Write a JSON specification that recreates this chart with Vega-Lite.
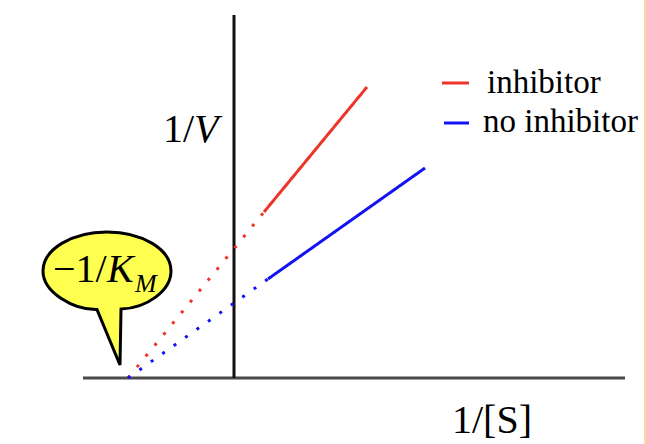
{
  "$schema": "https://vega.github.io/schema/vega-lite/v6.json",
  "width": 646,
  "height": 444,
  "padding": 0,
  "autosize": {"type": "none"},
  "background": "white",
  "config": {
    "view": {"stroke": null}
  },
  "datasets": {
    "lines": [
      {"series": "inhibitor", "part": "dotted", "x": -1.06, "y": 0},
      {"series": "inhibitor", "part": "dotted", "x": 0.30, "y": 1.66},
      {"series": "inhibitor", "part": "solid", "x": 0.30, "y": 1.66},
      {"series": "inhibitor", "part": "solid", "x": 1.33, "y": 2.91},
      {"series": "no inhibitor", "part": "dotted", "x": -1.06, "y": 0},
      {"series": "no inhibitor", "part": "dotted", "x": 0.34, "y": 0.99},
      {"series": "no inhibitor", "part": "solid", "x": 0.34, "y": 0.99},
      {"series": "no inhibitor", "part": "solid", "x": 1.91, "y": 2.10}
    ],
    "legend": [
      {"series": "inhibitor", "x": 2.08, "x2": 2.35, "y": 2.95, "lx": 2.53, "ly": 2.85},
      {"series": "no inhibitor", "x": 2.10, "x2": 2.35, "y": 2.55, "lx": 2.49, "ly": 2.46}
    ],
    "xaxis": [{"x": -1.51, "x2": 3.91, "y": 0}],
    "yaxis": [{"x": 0, "y": 0, "y2": 3.63}],
    "border": [{"x": 4.11, "y": -0.66, "y2": 3.78}],
    "callout": [{"x": -1.27, "y": 1.07}],
    "upright": [
      {"t": "1/", "x": -0.71, "y": 2.36},
      {"t": "1/[S]", "x": 2.18, "y": -0.55},
      {"t": "−1/", "x": -1.81, "y": 0.96}
    ],
    "italic": [
      {"t": "V", "x": -0.40, "y": 2.36},
      {"t": "K", "x": -1.27, "y": 0.96}
    ],
    "sub": [{"t": "M", "x": -0.99, "y": 0.86}]
  },
  "encoding": {
    "x": {"field": "x", "type": "quantitative", "scale": {"domain": [-2.34, 4.12], "nice": false, "zero": false}, "axis": null},
    "y": {"field": "y", "type": "quantitative", "scale": {"domain": [-0.66, 3.78], "nice": false, "zero": false}, "axis": null}
  },
  "layer": [
    {
      "data": {"name": "border"},
      "mark": {"type": "rule", "color": "#f5dba3", "strokeWidth": 2},
      "encoding": {"y2": {"field": "y2"}}
    },
    {
      "data": {"name": "xaxis"},
      "mark": {"type": "rule", "color": "#4a4a4a", "strokeWidth": 3},
      "encoding": {"x2": {"field": "x2"}}
    },
    {
      "data": {"name": "yaxis"},
      "mark": {"type": "rule", "color": "#111111", "strokeWidth": 3},
      "encoding": {"y2": {"field": "y2"}}
    },
    {
      "data": {"name": "lines"},
      "mark": {"type": "line", "strokeWidth": 3},
      "encoding": {
        "color": {
          "field": "series",
          "type": "nominal",
          "scale": {"domain": ["inhibitor", "no inhibitor"], "range": ["#ee3328", "#1212f2"]},
          "legend": null
        },
        "strokeDash": {"field": "part", "type": "nominal", "scale": {"domain": ["dotted", "solid"], "range": [[3, 11], [1, 0]]}, "legend": null},
        "order": {"field": "x", "type": "quantitative"}
      }
    },
    {
      "data": {"name": "legend"},
      "mark": {"type": "rule", "strokeWidth": 3},
      "encoding": {
        "x2": {"field": "x2"},
        "color": {"field": "series", "type": "nominal", "legend": null}
      }
    },
    {
      "data": {"name": "legend"},
      "mark": {"type": "text", "font": "Liberation Serif", "fontSize": 33, "align": "left", "baseline": "alphabetic", "color": "black"},
      "encoding": {
        "x": {"field": "lx", "type": "quantitative"},
        "y": {"field": "ly", "type": "quantitative"},
        "text": {"field": "series"}
      }
    },
    {
      "data": {"name": "callout"},
      "mark": {
        "type": "point",
        "shape": "M0.219,0.595 C0.62,0.58 1,0.31 1,0 C1,-0.3369 0.5523,-0.61 0,-0.61 C-0.5523,-0.61 -1,-0.3369 -1,0 C-1,0.3369 -0.52,0.61 -0.156,0.6025 L0.203,1.469 Z",
        "size": 16384,
        "filled": true,
        "fill": "#ffff50",
        "stroke": "black",
        "strokeWidth": 3,
        "opacity": 1
      },
      "encoding": {}
    },
    {
      "data": {"name": "upright"},
      "mark": {"type": "text", "font": "Liberation Serif", "fontSize": 40, "align": "left", "baseline": "alphabetic", "color": "black"},
      "encoding": {"text": {"field": "t"}}
    },
    {
      "data": {"name": "italic"},
      "mark": {"type": "text", "font": "Liberation Serif", "fontSize": 40, "fontStyle": "italic", "align": "left", "baseline": "alphabetic", "color": "black"},
      "encoding": {"text": {"field": "t"}}
    },
    {
      "data": {"name": "sub"},
      "mark": {"type": "text", "font": "Liberation Serif", "fontSize": 26, "fontStyle": "italic", "align": "left", "baseline": "alphabetic", "color": "black"},
      "encoding": {"text": {"field": "t"}}
    }
  ]
}
